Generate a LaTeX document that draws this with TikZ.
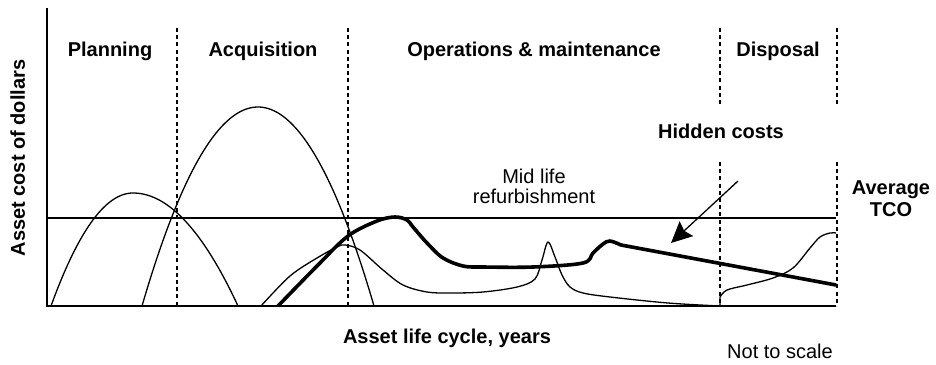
\documentclass[tikz,border=0pt]{standalone}
\usepackage{fontspec}
\setmainfont{Liberation Sans}
\usepackage{tikz}
\usetikzlibrary{arrows.meta}

\begin{document}
\begin{tikzpicture}[x=0.5pt,y=-0.5pt,
    phase/.style={dash pattern=on 2pt off 1.6pt,line width=0.75pt},
    thin/.style={line width=0.65pt},
    thick/.style={line width=1.8pt,line join=round},
    head/.style={font=\fontsize{10}{12}\selectfont\bfseries,inner sep=0pt,anchor=base},
    note/.style={font=\fontsize{10}{12}\selectfont,inner sep=0pt,anchor=base}]
        \useasboundingbox (0,0) rectangle (936,364);
        \draw[thin] (47,8) -- (47,306) -- (836,306);
        \draw[thin] (47,218) -- (836,218);
        \draw[phase] (177,28) -- (177,306);
        \draw[phase] (348,28) -- (348,306);
        \draw[phase] (720,28) -- (720,105);
        \draw[phase] (720,162) -- (720,306);
        \draw[phase] (837,28) -- (837,105);
        \draw[phase] (837,162) -- (837,306);
        \draw[thin] plot[domain=51:133,samples=40] (\x,{193+113*((\x-133)/82)^2});
        \draw[thin] plot[domain=133:238,samples=50] (\x,{193+113*((\x-133)/105)^2});
        \draw[thin] plot[domain=142:374,samples=80] (\x,{107+199*((\x-258)/116)^2});
        \draw[thin] plot[smooth,tension=0.55] coordinates {(261,306) (290,276) (317,258) (337,247) (345,245)
            (360,250) (383,270) (403,285) (427,292) (450,293) (483,292) (517,287) (535,279)
            (542,260) (548,242) (555,257) (562,275) (570,287) (583,293) (610,297) (668,303) (720,306)};
        \draw[thick] plot[smooth,tension=0.55] coordinates {(278,306) (317,266) (348,236) (377,221) (395,217)
            (407,220) (413,227) (427,243) (443,258) (463,266) (483,267) (533,267) (583,263)
            (593,253) (603,244) (610,241) (621,245)} -- (836,285);
        \draw[thin] (720,306) -- (720,297) plot[smooth,tension=0.55] coordinates {(720,297) (727,290) (747,285)
            (773,278) (793,268) (810,248) (820,237) (830,233) (836,233)};
        \coordinate (hctail) at (738,181);
        \coordinate (hctip) at (671,243);
        \draw[thin,-{Stealth[length=10.5pt,width=10pt,inset=1.5pt]}] (hctail) -- (hctip);
        \node[head] (plan) at (110,56) {Planning};
        \node[head] (acq) at (263,56) {Acquisition};
        \node[head] (om) at (534,56) {Operations \& maintenance};
        \node[head] (disp) at (778,56) {Disposal};
        \node[head] (hidden) at (721,138) {Hidden costs};
        \node[note] (mid) at (534,183) {Mid life};
        \node[note] (refurb) at (534,203) {refurbishment};
        \node[head] (avg) at (891,194) {Average};
        \node[head] (tco) at (891,216) {TCO};
        \node[head] (xlbl) at (447,343) {Asset life cycle, years};
        \node[note] (scale) at (780,358) {Not to scale};
        \node[head,rotate=90] (ylbl) at (25,158) {Asset cost of dollars};
\end{tikzpicture}
\end{document}
